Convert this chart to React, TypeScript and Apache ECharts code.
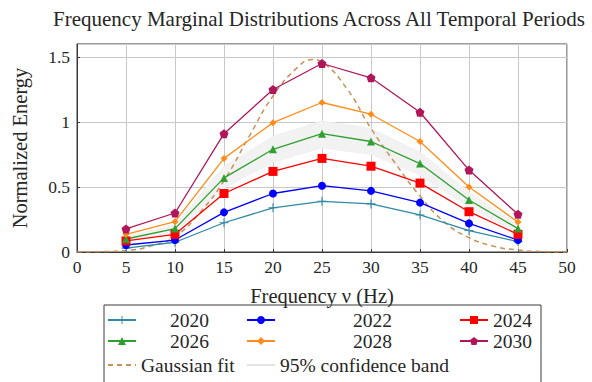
import React, { useEffect, useRef } from "react";
import * as echarts from "echarts";

const freqs = [5, 10, 15, 20, 25, 30, 35, 40, 45];
const y2020 = [0.03, 0.075, 0.225, 0.34, 0.39, 0.37, 0.285, 0.165, 0.08];
const y2022 = [0.054, 0.092, 0.305, 0.45, 0.51, 0.47, 0.38, 0.22, 0.092];
const y2024 = [0.085, 0.136, 0.45, 0.62, 0.72, 0.66, 0.53, 0.31, 0.136];
const y2026 = [0.1, 0.18, 0.57, 0.79, 0.91, 0.85, 0.68, 0.4, 0.18];
const y2028 = [0.136, 0.233, 0.72, 0.995, 1.15, 1.06, 0.85, 0.5, 0.23];
const y2030 = [0.177, 0.3, 0.91, 1.25, 1.45, 1.34, 1.075, 0.63, 0.29];

const gaussX = [0, 2.5, 5, 7.5, 10, 12.5, 15, 17.5, 20, 22.5, 24, 25, 27.5, 30, 32.5, 35, 37.5, 40, 42.5, 45, 47.5, 50];
const gaussY = [0, 0.003, 0.012, 0.045, 0.12, 0.3, 0.55, 0.88, 1.2, 1.42, 1.48, 1.46, 1.26, 0.95, 0.68, 0.43, 0.23, 0.11, 0.045, 0.015, 0.004, 0];

const bandLower = [0.08, 0.15, 0.49, 0.69, 0.8, 0.75, 0.59, 0.34, 0.15];
const bandUpper = [0.12, 0.21, 0.66, 0.89, 1.01, 0.95, 0.77, 0.46, 0.21];

const xTicks = { min: 0, max: 50, interval: 5 };
const yTicks = { min: 0, max: 1.6, interval: 0.5 };

const FONT = "Liberation Serif";
const TXT = "#262626";

const plusPath = "path://M0.44 0H0.56V0.44H1V0.56H0.56V1H0.44V0.56H0V0.44H0.44Z";
const pentPath = "path://M0 -1L0.951 -0.309L0.588 0.809L-0.588 0.809L-0.951 -0.309Z";

const pairs = (xs: number[], ys: number[]) => xs.map((x, i) => [x, ys[i]]);

export default function App() {
  const ref = useRef<HTMLDivElement>(null);
  useEffect(() => {
    if (!ref.current) return;
    const chart = echarts.init(ref.current, undefined, { renderer: "svg" });

    const yearSeries = [
      { name: "2020", data: y2020, color: "#2f8aa5", symbol: plusPath, size: 9 },
      { name: "2022", data: y2022, color: "#0000ff", symbol: "circle", size: 8 },
      { name: "2024", data: y2024, color: "#ff0000", symbol: "rect", size: 9 },
      { name: "2026", data: y2026, color: "#2f9f2f", symbol: "triangle", size: 8 },
      { name: "2028", data: y2028, color: "#ff8c1a", symbol: "diamond", size: 7 },
      { name: "2030", data: y2030, color: "#b0175a", symbol: pentPath, size: 9 },
    ];

    const legendPos: { name: string; left: number; top: number; pad: number; noSym?: boolean }[] = [
      { name: "2020", left: 107, top: 310, pad: 29 },
      { name: "2022", left: 246, top: 310, pad: 73 },
      { name: "2024", left: 459, top: 310, pad: 0 },
      { name: "2026", left: 107, top: 331, pad: 29 },
      { name: "2028", left: 246, top: 331, pad: 73 },
      { name: "2030", left: 459, top: 331, pad: 0 },
      { name: "Gaussian fit", left: 107, top: 355, pad: 0, noSym: true },
      { name: "95% confidence band", left: 246, top: 355, pad: 0, noSym: true },
    ];

    const legends = legendPos.map((l) => ({
      show: true,
      data: [l.noSym ? { name: l.name, itemStyle: { opacity: 0 } } : l.name],
      left: l.left,
      top: l.top,
      orient: "horizontal",
      itemWidth: 28,
      itemHeight: 10,
      padding: 0,
      selectedMode: false,
      textStyle: {
        fontFamily: FONT,
        fontSize: 19.5,
        color: TXT,
        padding: [0, 0, 0, l.pad],
      },
    }));

    const option: any = {
      animation: false,
      backgroundColor: "#ffffff",
      title: {
        text: "Frequency Marginal Distributions Across All Temporal Periods",
        left: 48,
        top: 3,
        textStyle: { fontFamily: FONT, fontSize: 21, fontWeight: "normal", color: TXT },
      },
      legend: legends,
      grid: {
        left: 77,
        right: 25,
        top: 44,
        bottom: 130,
        show: true,
        borderColor: "#3a3a3a",
        borderWidth: 1,
      },
      xAxis: {
        type: "value",
        ...xTicks,
        name: "Frequency ν (Hz)",
        nameLocation: "middle",
        nameGap: 33,
        nameTextStyle: { fontFamily: FONT, fontSize: 20.5, color: TXT },
        axisLine: { show: true, lineStyle: { color: "#3a3a3a" } },
        axisTick: { show: true, inside: true, length: 3, lineStyle: { color: "#3a3a3a" } },
        axisLabel: { fontFamily: FONT, fontSize: 17.5, color: TXT, margin: 6 },
        splitLine: { show: true, lineStyle: { color: "#c8c8c8", width: 1 } },
      },
      yAxis: {
        type: "value",
        ...yTicks,
        name: "Normalized Energy",
        nameLocation: "middle",
        nameGap: 47,
        nameTextStyle: { fontFamily: FONT, fontSize: 20.5, color: TXT },
        axisLine: { show: true, lineStyle: { color: "#3a3a3a" } },
        axisTick: { show: true, inside: true, length: 3, lineStyle: { color: "#3a3a3a" } },
        axisLabel: { fontFamily: FONT, fontSize: 17.5, color: TXT, margin: 7, showMaxLabel: false },
        splitLine: { show: true, lineStyle: { color: "#c8c8c8", width: 1 } },
      },
      series: [
        {
          name: "bandFill",
          type: "custom",
          data: [[0]],
          silent: true,
          z: 1,
          renderItem: (params: any, api: any) => {
            const pts: number[][] = [];
            freqs.forEach((x, i) => pts.push(api.coord([x, bandUpper[i]])));
            for (let i = freqs.length - 1; i >= 0; i--) pts.push(api.coord([freqs[i], bandLower[i]]));
            return {
              type: "polygon",
              shape: { points: pts },
              style: { fill: "#f2f2f2", stroke: "#ededed", lineWidth: 0.6 },
            };
          },
        },
        {
          name: "95% confidence band",
          type: "line",
          data: [],
          symbol: "none",
          color: "#e4e4e4",
          lineStyle: { color: "#e4e4e4", width: 1.5 },
        },
        {
          name: "Gaussian fit",
          type: "line",
          data: pairs(gaussX, gaussY),
          smooth: true,
          symbol: "none",
          color: "#c8915a",
          lineStyle: { color: "#c8915a", width: 1.5, type: [5, 4] },
          z: 2,
        },
        ...yearSeries.map((s) => ({
          name: s.name,
          type: "line",
          data: pairs(freqs, s.data),
          symbol: s.symbol,
          symbolSize: s.size,
          showAllSymbol: true,
          color: s.color,
          itemStyle: { color: s.color },
          lineStyle: { color: s.color, width: 1.3 },
          z: 3,
        })),
      ],
      graphic: [
        {
          type: "rect",
          shape: { x: 104, y: 305, width: 437, height: 90 },
          style: { fill: "none", stroke: "#3a3a3a", lineWidth: 1 },
          z: -1,
        },
      ],
    };
    chart.setOption(option);
    return () => chart.dispose();
  }, []);
  return (
    <div
      ref={ref}
      style={{ position: "fixed", left: 0, top: 0, width: 592, height: 382, background: "#fff" }}
    />
  );
}
